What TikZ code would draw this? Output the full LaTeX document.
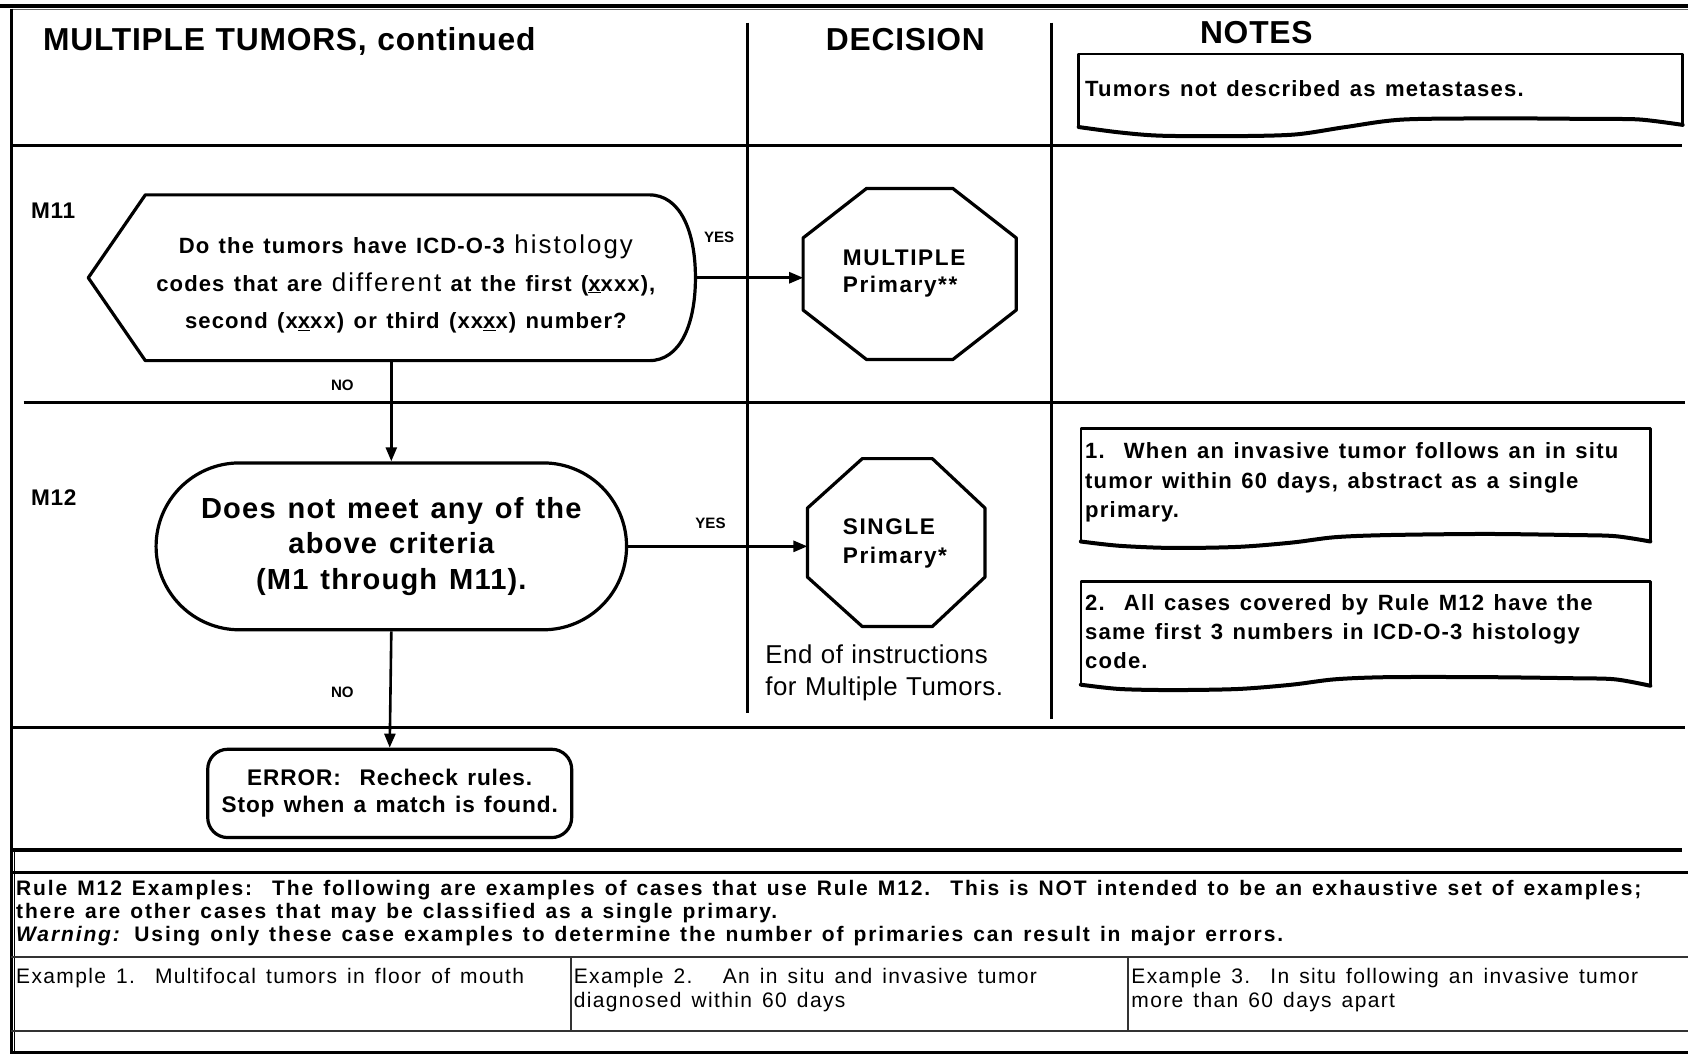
\documentclass[tikz,border=0pt]{standalone}
\usepackage{fontspec}
\setmainfont{Liberation Sans}
\usetikzlibrary{arrows.meta,shapes.misc}
\newcommand\pu[1]{\fpeval{#1*1.0766}pt}
\newcommand\fs[2]{\fontsize{\pu{#1}}{\pu{#2}}\selectfont}
\newcommand\lsp[2]{\addfontfeatures{LetterSpace=#1}\spaceskip=#2\fontdimen2\font\relax}
\begin{document}
\begin{tikzpicture}[x=1.0766pt,y=-1.0766pt,
  rule/.style={line width=3.2pt},
  trule/.style={line width=2pt,black!80},
  shp/.style={line width=3.2pt,line join=round},
  note/.style={line width=2.6pt,line join=round},
  wave/.style={line width=4pt,line cap=round},
  arr/.style={line width=2.6pt,-{Triangle[length=14pt,width=11pt]}},
  txt/.style={inner sep=0pt,outer sep=0pt},
  head/.style={txt,font=\fs{29.5}{34}\bfseries\lsp{2.5}{1.1}},
  lab/.style={txt,font=\fs{21}{25}\bfseries\lsp{3}{1}},
  yn/.style={txt,font=\fs{14}{16}\bfseries},
  notetxt/.style={txt,align=left,font=\fs{20.5}{27}\bfseries\lsp{5.5}{1.3}},
  bot/.style={txt,anchor=base west,font=\fs{19.5}{22}\bfseries\lsp{9}{1.3}},
  cell/.style={txt,anchor=base west,font=\fs{19.5}{22}\lsp{6.5}{1.4}}
]
\useasboundingbox[fill=white] (0,0) rectangle (1568,980);

% frame and rules
\draw[rule] (0,5.5) -- (1568,5.5);
\draw[line width=1.2pt,black!60] (10,9) -- (1568,9);
\draw[rule] (10.5,8) -- (10.5,979);
\draw[line width=1.4pt] (13.5,790) -- (13.5,978);
\draw[rule] (10,135) -- (1562,135);
\draw[rule] (22,374) -- (1565,374);
\draw[rule] (10,676) -- (1565,676);
\draw[rule] (10,789.5) -- (1562,789.5);
\draw[rule] (10,810.5) -- (1568,810.5);
\draw[trule] (10,889) -- (1568,889);
\draw[trule] (10,958) -- (1568,958);
\draw[rule] (10,978) -- (1568,978);
\draw[trule] (530,889) -- (530,958);
\draw[trule] (1048,889) -- (1048,958);
\draw[rule] (694,21) -- (694,662);
\draw[rule] (977,21) -- (977,668);

% headers
\node[head,anchor=base west] (h1) at (40,47) {MULTIPLE TUMORS, continued};
\node[head,anchor=base] (h2) at (841,47) {DECISION};
\node[head,anchor=base] (h3) at (1167,40) {NOTES};

% note top
\draw[note] (1002,118) -- (1002,50) -- (1563,50) -- (1563,116);
\draw[wave] plot[smooth] coordinates {(1002,118) (1040,123) (1077,126) (1140,126.5) (1202,125) (1250,118) (1304,111) (1400,110) (1480,110.5) (1523,111) (1563,116)};
\node[notetxt,anchor=west] (n0) at (1008,82) {Tumors not described as metastases.};

% M11
\node[lab,anchor=west] (l11) at (29,196) {M11};
\draw[shp] (82,258) -- (135,181) -- (603,181) .. controls (632,181) and (646,215) .. (646,258) .. controls (646,301) and (632,335) .. (603,335) -- (135,335) -- cycle;
\node[txt,align=center,font=\fs{20.5}{35}\bfseries\lsp{5}{1.3}] (m11) at (377,264)
 {Do the tumors have ICD-O-3 {\mdseries\fs{24}{35}\lsp{8}{1.2}histology}\\
  codes that are {\mdseries\fs{24}{35}\lsp{8}{1.2}different} at the first (\underline{x}xxx),\\
  second (x\underline{x}xx) or third (xx\underline{x}x) number?};
\coordinate (m11r) at (646,258);
\coordinate (m11b) at (363.5,335);

% MULTIPLE octagon
\draw[shp] (746,221) -- (805,175) -- (885,175) -- (944,221) -- (944,288) -- (885,334) -- (805,334) -- (746,288) -- cycle;
\node[txt,minimum width=213pt,minimum height=171pt] (mult) at (845,254.5) {};
\node[txt,align=left,anchor=west,font=\fs{21}{25}\bfseries\lsp{7}{1.2}] (multt) at (783,254) {MULTIPLE\\Primary**};
\draw[arr] (m11r) -- (m11r -| mult.west);
\node[yn] (yes1) at (668,220) {YES};
\node[yn] (no1) at (318,358) {NO};

% M12
\node[lab,anchor=west] (l12) at (29,462) {M12};
\node[draw,shp,rounded rectangle,minimum width=470.5pt,minimum height=166.9pt,inner sep=0pt,align=center,font=\fs{27}{33}\bfseries\lsp{4}{1.3}] (m12) at (363.5,507.5)
 {Does not meet any of the\\above criteria\\(M1 through M11).};
\draw[arr] (m11b) -- (m12.north);

% SINGLE octagon
\draw[shp] (750,472) -- (801,426) -- (866,426) -- (915,472) -- (915,536) -- (866,582) -- (801,582) -- (750,536) -- cycle;
\node[txt,minimum width=177.6pt,minimum height=168pt] (single) at (832.5,504) {};
\node[txt,align=left,anchor=west,font=\fs{21}{27}\bfseries\lsp{7}{1.2}] (singlet) at (783,504.5) {SINGLE\\Primary*};
\draw[arr] (m12.east) -- (m12.east -| single.west);
\node[yn] (yes2) at (660,486) {YES};
\node[txt,align=left,anchor=west,font=\fs{24}{29}\lsp{2}{1.1}] (endt) at (711,625) {End of instructions\\for Multiple Tumors.};

% notes 1 and 2
\draw[note] (1004,503) -- (1004,398) -- (1533,398) -- (1533,503);
\draw[wave] plot[smooth] coordinates {(1004,503) (1040,507) (1089,509) (1150,508) (1200,504) (1240,499) (1290,497) (1380,496) (1460,497) (1500,498) (1533,503)};
\node[notetxt,anchor=west] (n1) at (1008,448) {1.\ \ When an invasive tumor follows an in situ\\tumor within 60 days, abstract as a single\\primary.};
\draw[note] (1004,636) -- (1004,540) -- (1533,540) -- (1533,637);
\draw[wave] plot[smooth] coordinates {(1004,636) (1040,640) (1089,641) (1150,640) (1200,636) (1240,631) (1290,629) (1380,629) (1460,630) (1500,631) (1533,637)};
\node[notetxt,anchor=west] (n2) at (1008,587) {2.\ \ All cases covered by Rule M12 have the\\same first 3 numbers in ICD-O-3 histology\\code.};

% ERROR
\node[draw,shp,rounded corners=20pt,minimum width=364pt,minimum height=88.3pt,inner sep=0pt,align=center,font=\fs{21}{25}\bfseries\lsp{4}{1.3}] (err) at (362,737) {ERROR:\ \ Recheck rules.\\Stop when a match is found.};
\draw[arr] (m12.south) -- (err.north);
\node[yn] (no2) at (318,643) {NO};

% bottom examples
\node[bot] (b1) at (15,832) {Rule M12 Examples:\ \ The following are examples of cases that use Rule M12.\ \ This is NOT intended to be an exhaustive set of examples;};
\node[bot] (b2) at (15,853.5) {there are other cases that may be classified as a single primary.};
\node[bot] (b3) at (15,875) {\textit{Warning:} Using only these case examples to determine the number of primaries can result in major errors.};
\node[cell] (c1) at (15,913.5) {Example 1.\ \ Multifocal tumors in floor of mouth};
\node[cell] (c2a) at (533,913.5) {Example 2.\ \ \ An in situ and invasive tumor};
\node[cell] (c2b) at (533,936) {diagnosed within 60 days};
\node[cell] (c3a) at (1051,913.5) {Example 3.\ \ In situ following an invasive tumor};
\node[cell] (c3b) at (1051,936) {more than 60 days apart};
\end{tikzpicture}
\end{document}
